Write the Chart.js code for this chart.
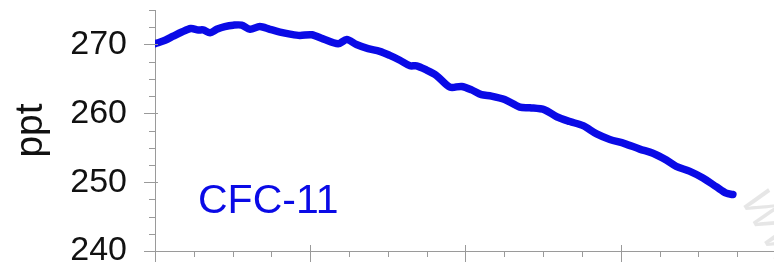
<!DOCTYPE html>
<html>
<head>
<meta charset="utf-8">
<script src="https://cdn.jsdelivr.net/npm/chart.js@4"></script>
<style>
  html, body { margin: 0; padding: 0; background: #ffffff; }
  #wrap { width: 774px; height: 267px; position: relative; }
</style>
</head>
<body>
<div id="wrap"><canvas id="c" width="774" height="267"></canvas></div>
<script>
// ---- data ----
const years = [1992.0, 1992.26, 1992.47, 1992.69, 1992.92, 1993.12, 1993.24, 1993.42, 1993.59, 1993.80,
  1994.02, 1994.23, 1994.45, 1994.70, 1994.96, 1995.22, 1995.48, 1995.73, 1996.04, 1996.33,
  1996.72, 1996.94, 1997.19, 1997.49, 1997.79, 1998.05, 1998.31, 1998.57, 1998.74, 1998.99,
  1999.25, 1999.60, 1999.90, 2000.16, 2000.41, 2000.67, 2001.01, 2001.40, 2001.66, 2002.04,
  2002.35, 2002.69, 2003.03, 2003.38, 2003.72, 2004.10, 2004.49, 2004.83, 2005.18, 2005.43,
  2005.77, 2006.12, 2006.47, 2006.72, 2006.89];
const cfc11 = [270.1, 270.6, 271.2, 271.8, 272.3, 272.1, 272.1, 271.7, 272.2, 272.6,
  272.8, 272.8, 272.2, 272.6, 272.2, 271.8, 271.5, 271.3, 271.4, 270.8,
  270.1, 270.7, 270.0, 269.4, 269.0, 268.4, 267.7, 266.9, 266.9, 266.3,
  265.5, 263.8, 263.9, 263.4, 262.7, 262.5, 262.0, 260.9, 260.8, 260.5,
  259.5, 258.8, 258.2, 257.0, 256.2, 255.6, 254.8, 254.2, 253.2, 252.3,
  251.6, 250.6, 249.3, 248.4, 248.2];
const yTickValues = [240, 250, 260, 270];
const seriesLabel = 'CFC-11';
const yTitle = 'ppt';

const BLUE = '#0a0ae6';
const AXIS = '#9a9a9a';
const TEXT = '#111111';

const tickPlugin = {
  id: 'minorMajorTicks',
  afterDraw(chart) {
    const ctx = chart.ctx;
    const xs = chart.scales.x, ys = chart.scales.y;
    const ax = xs.getPixelForValue(xs.min);
    const ay = ys.getPixelForValue(ys.min);
    ctx.save();
    ctx.strokeStyle = AXIS;
    ctx.lineWidth = 1;
    ctx.beginPath();
    // y ticks: minor every 2.5, major every 10
    for (let v = 240; v <= 275.001; v += 2.5) {
      const py = Math.round(ys.getPixelForValue(v)) + 0.5;
      const major = Math.abs(v % 10) < 1e-6;
      ctx.moveTo(ax - (major ? 11 : 6), py);
      ctx.lineTo(ax + (major ? 3 : 0), py);
    }
    // x ticks: minor every year, major every 4 years
    for (let yr = 1992; yr <= xs.max; yr += 1) {
      const px = Math.round(xs.getPixelForValue(yr)) + 0.5;
      const major = (yr - 1992) % 4 === 0;
      ctx.moveTo(px, ay + (major ? -6 : 0));
      ctx.lineTo(px, ay + (major ? 11 : 6));
    }
    ctx.stroke();

    // series label
    ctx.fillStyle = BLUE;
    ctx.font = '41px "Liberation Sans", Arial, sans-serif';
    ctx.textBaseline = 'alphabetic';
    ctx.textAlign = 'left';
    ctx.fillText(seriesLabel, 198, 213);

    // faint watermark fragment
    ctx.translate(740, 200);
    ctx.rotate(Math.PI / 3);
    ctx.fillStyle = 'rgba(200,200,200,0.45)';
    ctx.font = 'italic 44px "Liberation Sans", Arial, sans-serif';
    ctx.fillText('WW', 0, 0);
    ctx.restore();
  }
};

new Chart(document.getElementById('c'), {
  type: 'line',
  data: {
    datasets: [{
      label: seriesLabel,
      data: years.map((x, i) => ({ x: x, y: cfc11[i] })),
      borderColor: BLUE,
      backgroundColor: BLUE,
      borderWidth: 7.5,
      pointRadius: 0,
      tension: 0.3,
      borderCapStyle: 'round',
      borderJoinStyle: 'round',
      fill: false
    }]
  },
  options: {
    responsive: false,
    animation: false,
    devicePixelRatio: 1,
    layout: { padding: { top: 10, right: 0, bottom: 0, left: 0 } },
    plugins: { legend: { display: false }, tooltip: { enabled: false } },
    scales: {
      x: {
        type: 'linear',
        min: 1992,
        max: 2007.95,
        grid: { display: true, drawOnChartArea: false, drawTicks: false },
        border: { display: true, color: AXIS, width: 1 },
        ticks: { display: false, stepSize: 1 },
        afterFit(scale) {
          scale.height = 16;
          scale.paddingLeft = 0; scale.paddingRight = 0;
          scale.paddingTop = 0; scale.paddingBottom = 0;
        }
      },
      y: {
        min: 240,
        max: 275,
        grid: { display: true, drawOnChartArea: false, drawTicks: false },
        border: { display: true, color: AXIS, width: 1 },
        afterBuildTicks(scale) { scale.ticks = yTickValues.map(v => ({ value: v })); },
        ticks: {
          color: TEXT,
          padding: 28,
          font: { family: '"Liberation Sans", Arial, sans-serif', size: 34 }
        },
        title: {
          display: true,
          text: yTitle,
          color: TEXT,
          font: { family: '"Liberation Sans", Arial, sans-serif', size: 39 },
          padding: { top: 8, bottom: 0 }
        },
        afterFit(scale) {
          scale.width = 155;
          scale.paddingLeft = 0; scale.paddingRight = 0;
          scale.paddingTop = 0; scale.paddingBottom = 0;
        }
      }
    }
  },
  plugins: [tickPlugin]
});
</script>
</body>
</html>
